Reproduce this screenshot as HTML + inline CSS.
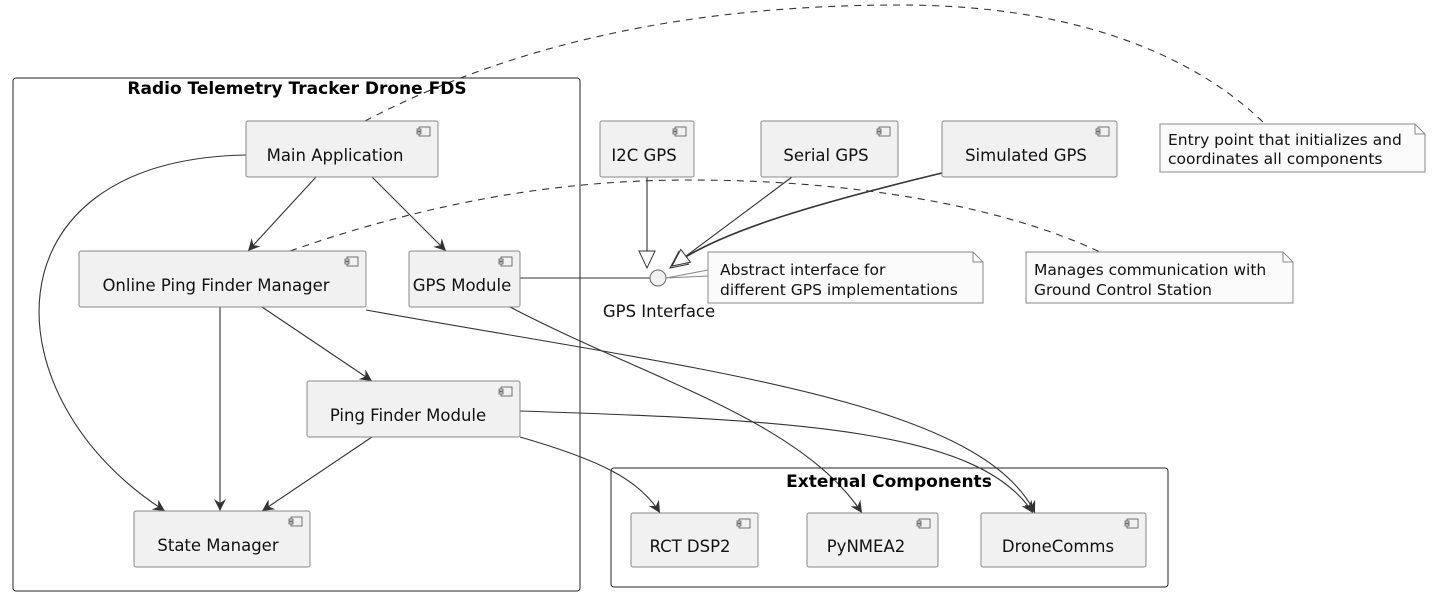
<!DOCTYPE html>
<html><head><meta charset="utf-8"><style>
html,body{margin:0;padding:0;background:#fff;}
svg{display:block;font-family:"DejaVu Sans","Liberation Sans",sans-serif;}
</style></head><body>
<svg width="1437" height="603" viewBox="0 0 1437 603" xmlns="http://www.w3.org/2000/svg">
<defs>
<marker id="a" markerWidth="14" markerHeight="12" refX="12" refY="6" orient="auto" markerUnits="userSpaceOnUse">
<path d="M0,0 L12,6 L0,12 L4,6 Z" fill="#333"/>
</marker>
<marker id="t" markerWidth="20" markerHeight="20" refX="18" refY="10" orient="auto" markerUnits="userSpaceOnUse">
<path d="M1,2 L18,10 L1,18 Z" fill="#fff" stroke="#333" stroke-width="1"/>
</marker>
<g id="ic"><rect x="0" y="0" width="11" height="9" fill="#f1f1f1" stroke="#555" stroke-width="0.8"/><rect x="-2" y="2" width="4" height="2" fill="#f1f1f1" stroke="#555" stroke-width="0.8"/><rect x="-2" y="5" width="4" height="2" fill="#f1f1f1" stroke="#555" stroke-width="0.8"/></g>
</defs>
<g fill="none" stroke="#222" stroke-width="1">
<rect x="13" y="78" width="567" height="513" rx="3"/>
<rect x="611" y="468" width="557" height="119" rx="3"/>
</g>
<g fill="none" stroke="#333" stroke-width="1.1">
<path d="M246,155 C-20,160 -10,400 165,511" marker-end="url(#a)"/>
<path d="M316,177 L248,251" marker-end="url(#a)"/>
<path d="M372,177 L446,251" marker-end="url(#a)"/>
<path d="M220,307 L220,511" marker-end="url(#a)"/>
<path d="M262,307 L372,381" marker-end="url(#a)"/>
<path d="M366,310 C700,370 980,400 1035,513" marker-end="url(#a)"/>
<path d="M510,307 C650,380 800,420 862,513" marker-end="url(#a)"/>
<path d="M520,411 C800,420 980,430 1033,513" marker-end="url(#a)"/>
<path d="M520,437 C600,460 640,480 660,513" marker-end="url(#a)"/>
<path d="M372,437 L262,511" marker-end="url(#a)"/>
<path d="M520,278 L650,278"/>
<path d="M647,177 L647,268" marker-end="url(#t)"/>
<path d="M792,177 L670,268" marker-end="url(#t)"/>
<path d="M942,173 C830,200 720,230 672,266" marker-end="url(#t)" stroke-width="1.6"/>
</g>
<g fill="none" stroke="#333" stroke-width="1.1" stroke-dasharray="7,6">
<path d="M365,121 C520,40 700,5 900,5 C1100,5 1210,70 1265,124"/>
<path d="M290,251 C450,195 580,180 690,180 C850,180 1000,205 1100,252"/>
</g>
<g font-weight="bold" font-size="17" fill="#000" text-anchor="middle">
<text x="297" y="94">Radio Telemetry Tracker Drone FDS</text>
<text x="889" y="487">External Components</text>
</g>
<g fill="#f1f1f1" stroke="#888" stroke-width="1">
<rect x="246" y="121" width="192" height="56" rx="2"/>
<rect x="79" y="251" width="287" height="56" rx="2"/>
<rect x="409" y="251" width="111" height="56" rx="2"/>
<rect x="307" y="381" width="213" height="56" rx="2"/>
<rect x="134" y="511" width="176" height="56" rx="2"/>
<rect x="600" y="121" width="94" height="56" rx="2"/>
<rect x="761" y="121" width="137" height="56" rx="2"/>
<rect x="942" y="121" width="175" height="56" rx="2"/>
<rect x="631" y="513" width="127" height="54" rx="2"/>
<rect x="807" y="513" width="131" height="54" rx="2"/>
<rect x="981" y="513" width="165" height="54" rx="2"/>
</g>
<use href="#ic" x="419" y="127"/>
<use href="#ic" x="347" y="257"/>
<use href="#ic" x="501" y="257"/>
<use href="#ic" x="501" y="387"/>
<use href="#ic" x="291" y="517"/>
<use href="#ic" x="675" y="127"/>
<use href="#ic" x="879" y="127"/>
<use href="#ic" x="1098" y="127"/>
<use href="#ic" x="739" y="519"/>
<use href="#ic" x="919" y="519"/>
<use href="#ic" x="1127" y="519"/>
<g font-size="16.5" fill="#111" text-anchor="middle">
<text x="335" y="161">Main Application</text>
<text x="216" y="291">Online Ping Finder Manager</text>
<text x="462" y="291">GPS Module</text>
<text x="408" y="421">Ping Finder Module</text>
<text x="218" y="551">State Manager</text>
<text x="644" y="161">I2C GPS</text>
<text x="826" y="161">Serial GPS</text>
<text x="1026" y="161">Simulated GPS</text>
<text x="690" y="552">RCT DSP2</text>
<text x="866" y="552">PyNMEA2</text>
<text x="1058" y="552">DroneComms</text>
<text x="659" y="317">GPS Interface</text>
</g>
<circle cx="658" cy="278" r="8" fill="#f1f1f1" stroke="#666" stroke-width="1"/>
<g fill="#fbfbfb" stroke="#888" stroke-width="1">
<path d="M708,252 L973,252 L983,262 L983,303 L708,303 Z M708,270 L666,278 L708,276"/>
<path d="M973,252 L973,262 L983,262" fill="none"/>
<path d="M1026,252 L1283,252 L1293,262 L1293,303 L1026,303 Z"/>
<path d="M1283,252 L1283,262 L1293,262" fill="none"/>
<path d="M1160,124 L1415,124 L1425,134 L1425,172 L1160,172 Z"/>
<path d="M1415,124 L1415,134 L1425,134" fill="none"/>
</g>
<g font-size="15.5" fill="#111">
<text x="720" y="275">Abstract interface for</text>
<text x="720" y="295">different GPS implementations</text>
<text x="1034" y="275">Manages communication with</text>
<text x="1034" y="295">Ground Control Station</text>
<text x="1168" y="145">Entry point that initializes and</text>
<text x="1168" y="164">coordinates all components</text>
</g>
</svg>
</body></html>
